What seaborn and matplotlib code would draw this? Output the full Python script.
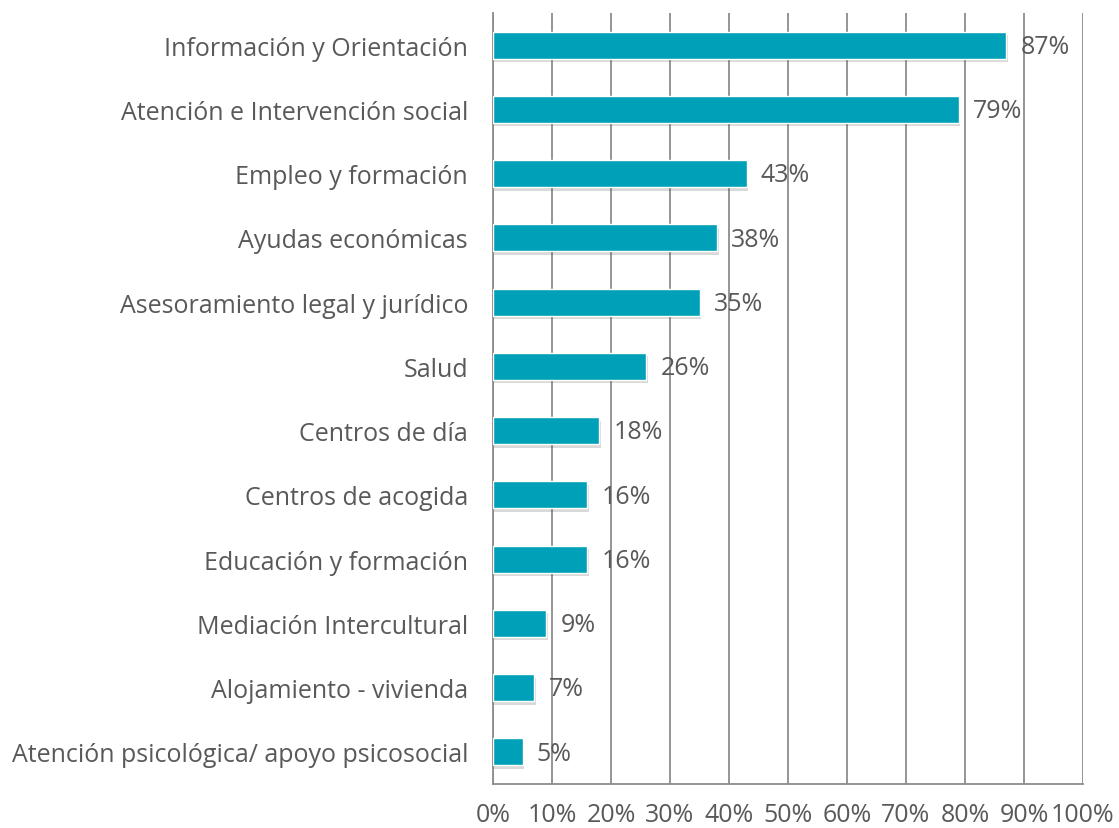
import matplotlib
matplotlib.use('Agg')
import matplotlib.pyplot as plt
import matplotlib.patheffects as pe
import seaborn as sns
import pandas as pd
import numpy as np

categorias = ['Información y Orientación', 'Atención e Intervención social',
              'Empleo y formación', 'Ayudas económicas',
              'Asesoramiento legal y jurídico', 'Salud', 'Centros de día',
              'Centros de acogida', 'Educación y formación',
              'Mediación Intercultural', 'Alojamiento - vivienda',
              'Atención psicológica/ apoyo psicosocial']
porcentajes = [87, 79, 43, 38, 35, 26, 18, 16, 16, 9, 7, 5]
ticks_x = [0, 10, 20, 30, 40, 50, 60, 70, 80, 90, 100]

df = pd.DataFrame({'categoria': categorias, 'porcentaje': porcentajes})

sns.set_style('white')
plt.rcParams['font.family'] = ['Open Sans', 'DejaVu Sans']
gris_texto = '#595959'
gris_linea = '#8c8c8c'
tam = 18

fig = plt.figure(figsize=(11.19, 8.29), dpi=100)
ax = fig.add_axes([0.4406, 0.0531, 0.5272, 0.930])

sns.barplot(data=df, y='categoria', x='porcentaje', orient='h',
            color='#00A0B8', saturation=1, width=0.42, ax=ax, zorder=3)

# sombra suave bajo las barras
for barra in ax.patches:
    barra.set_path_effects([pe.SimplePatchShadow(offset=(1, -2.5), alpha=0.2, shadow_rgbFace='#444444'),
                            pe.Normal()])

for i, v in enumerate(porcentajes):
    ax.text(v + 2.4, i + 0.02, f'{v}%', va='center', ha='left', fontsize=tam,
            color=gris_texto, zorder=4)

ax.set_xlim(0, 100)
ax.set_ylim(len(categorias) - 0.5, -0.5)
ax.set_xticks(ticks_x)
ax.set_xticklabels([f'{t}%' for t in ticks_x])
ax.xaxis.grid(True, color=gris_linea, linewidth=1.3, zorder=0)
ax.set_axisbelow(True)

ax.set_yticks(np.arange(-0.5, len(categorias), 1), minor=True)
ax.tick_params(axis='y', which='major', length=0, pad=18, labelsize=tam, labelcolor=gris_texto)
ax.tick_params(axis='y', which='minor', length=8, width=1.3, color=gris_linea, direction='out')
ax.tick_params(axis='x', which='major', length=8, width=1.3, color=gris_linea, direction='out',
               labelsize=tam, labelcolor=gris_texto, pad=5)

for lado in ['top', 'right']:
    ax.spines[lado].set_visible(False)
for lado in ['left', 'bottom']:
    ax.spines[lado].set_color(gris_linea)
    ax.spines[lado].set_linewidth(1.3)

ax.set_xlabel('')
ax.set_ylabel('')

plt.savefig('out.png', dpi=100)
plt.close()
